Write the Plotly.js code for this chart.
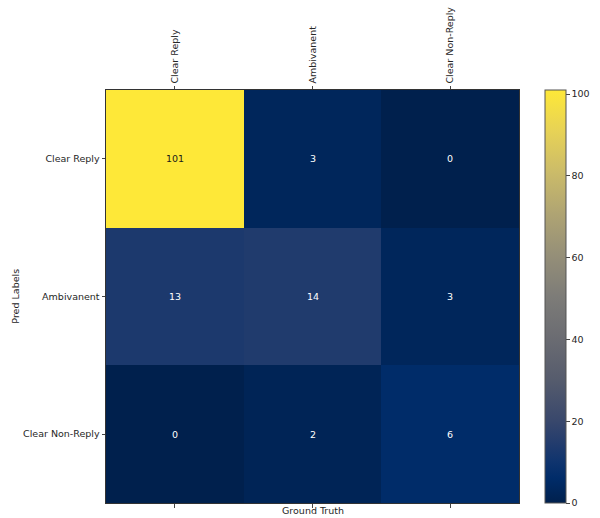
<!DOCTYPE html>
<html>
<head>
<meta charset="utf-8">
<script src="https://cdn.plot.ly/plotly-3.0.1.min.js"></script>
<style>html,body{margin:0;padding:0;background:#fff;}#chart{width:600px;height:518px;}</style>
</head>
<body>
<div id="chart"></div>
<script>
const truthLabels = ["Clear Reply", "Ambivanent", "Clear Non-Reply"];
const predLabels = ["Clear Reply", "Ambivanent", "Clear Non-Reply"];
const counts = [
  [101, 3, 0],
  [13, 14, 3],
  [0, 2, 6]
];
const colorbarTicks = [0, 20, 40, 60, 80, 100];

const cividis = [
  [0.00, 'rgb(0,32,77)'],
  [0.06, 'rgb(0,44,105)'],
  [0.10, 'rgb(15,52,110)'],
  [0.15, 'rgb(37,61,109)'],
  [0.20, 'rgb(57,72,108)'],
  [0.30, 'rgb(86,92,109)'],
  [0.40, 'rgb(107,108,114)'],
  [0.50, 'rgb(125,124,120)'],
  [0.60, 'rgb(149,143,120)'],
  [0.70, 'rgb(175,164,115)'],
  [0.80, 'rgb(203,187,105)'],
  [0.90, 'rgb(231,210,86)'],
  [1.00, 'rgb(254,232,56)']
];

const font = {family: 'DejaVu Sans, sans-serif', size: 9.5, color: '#262626'};

const annotations = [];
counts.forEach((row, i) => {
  row.forEach((v, j) => {
    annotations.push({
      x: truthLabels[j], y: predLabels[i], xref: 'x', yref: 'y',
      text: String(v), showarrow: false,
      font: {family: 'DejaVu Sans, sans-serif', size: 9.5, color: v > 60 ? '#1a1a1a' : '#ffffff'}
    });
  });
});
annotations.push({
  text: 'Ground Truth', xref: 'paper', yref: 'paper', x: 0.5, y: -0.019,
  yanchor: 'middle', xanchor: 'center', showarrow: false, font: font
});
annotations.push({
  text: 'Pred Labels', xref: 'paper', yref: 'paper', x: -0.22, y: 0.5,
  textangle: -90, xanchor: 'center', yanchor: 'middle', showarrow: false, font: font
});

const data = [{
  type: 'heatmap',
  x: truthLabels,
  y: predLabels,
  z: counts,
  zmin: 0, zmax: 101,
  colorscale: cividis,
  showscale: true,
  hoverinfo: 'x+y+z',
  colorbar: {
    x: 1.063, xanchor: 'left', xref: 'paper',
    y: 0.5, yanchor: 'middle', len: 1, lenmode: 'fraction',
    thickness: 21, thicknessmode: 'pixels',
    outlinewidth: 1, outlinecolor: '#555',
    tickvals: colorbarTicks, ticks: 'outside', ticklen: 3.5, tickcolor: '#444',
    tickfont: font, xpad: 0, ypad: 0
  }
}, {
  type: 'scatter', x: truthLabels, y: [predLabels[0], predLabels[0], predLabels[0]],
  xaxis: 'x2', yaxis: 'y', mode: 'markers', marker: {opacity: 0}, hoverinfo: 'skip', showlegend: false
}];

const layout = {
  width: 600, height: 518,
  margin: {l: 106, r: 81, t: 90, b: 15, pad: 0, autoexpand: false},
  paper_bgcolor: '#ffffff', plot_bgcolor: '#ffffff',
  font: font,
  showlegend: false,
  xaxis: {
    type: 'category', categoryarray: truthLabels, side: 'top', tickangle: -90,
    ticks: 'outside', ticklen: 3.5, tickcolor: '#444', tickfont: font,
    showline: true, linecolor: '#333', linewidth: 1, mirror: true,
    showgrid: false, zeroline: false, automargin: false, fixedrange: true
  },
  xaxis2: {
    type: 'category', categoryarray: truthLabels, overlaying: 'x', matches: 'x', side: 'bottom',
    ticks: 'outside', ticklen: 3.5, tickcolor: '#444', showticklabels: false,
    showline: false, showgrid: false, zeroline: false, automargin: false
  },
  yaxis: {
    type: 'category', categoryarray: predLabels, autorange: 'reversed',
    ticks: 'outside', ticklen: 3.5, tickcolor: '#444', tickfont: font,
    showline: true, linecolor: '#333', linewidth: 1, mirror: true,
    showgrid: false, zeroline: false, automargin: false, fixedrange: true
  },
  annotations: annotations
};

Plotly.newPlot('chart', data, layout, {displayModeBar: false, staticPlot: true});
</script>
</body>
</html>
